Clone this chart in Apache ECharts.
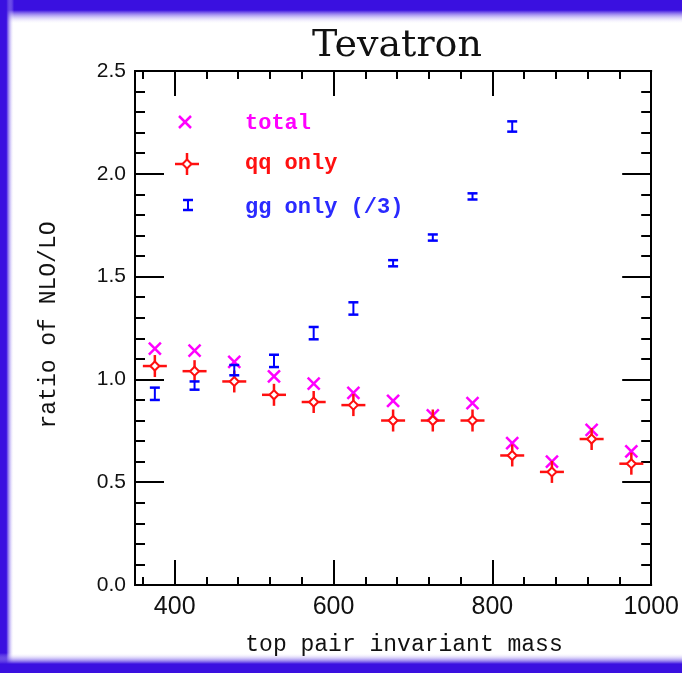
<!DOCTYPE html>
<html>
<head>
<meta charset="utf-8">
<title>Tevatron NLO/LO ratio</title>
<script src="https://cdn.jsdelivr.net/npm/echarts@6/dist/echarts.min.js"></script>
<style>
  html, body { margin: 0; padding: 0; background: #ffffff; }
  #chart { width: 682px; height: 673px; }
</style>
</head>
<body>
<div id="chart"></div>
<script>
// Bin centres of the top-pair invariant mass (GeV)
const massBins = [375, 425, 475, 525, 575, 625, 675, 725, 775, 825, 875, 925, 975];

// NLO/LO ratio, all channels
const totalRatio = [1.15, 1.14, 1.085, 1.015, 0.98, 0.935, 0.895, 0.825, 0.885, 0.69, 0.60, 0.755, 0.65];

// NLO/LO ratio, q-qbar channel only
const qqRatio = [1.065, 1.04, 0.99, 0.925, 0.89, 0.875, 0.80, 0.80, 0.80, 0.63, 0.55, 0.71, 0.59];

// NLO/LO ratio, gg channel only (divided by 3), with lower / upper bounds
const ggMass  = [375, 425, 475, 525, 575, 625, 675, 725, 775, 825];
const ggRatio = [0.93, 0.97, 1.045, 1.09, 1.225, 1.345, 1.565, 1.69, 1.89, 2.23];
const ggLow   = [0.90, 0.95, 1.02, 1.06, 1.195, 1.315, 1.55, 1.675, 1.875, 2.205];
const ggHigh  = [0.96, 0.99, 1.07, 1.12, 1.255, 1.375, 1.58, 1.705, 1.905, 2.255];

// Axis ticks
const xMajorTicks = [400, 600, 800, 1000];
const xMinorTicks = [360, 440, 480, 520, 560, 640, 680, 720, 760, 840, 880, 920, 960];

const legendNames = ['total', 'qq only', 'gg only (/3)'];

const MAGENTA = '#ff00ff';
const RED = '#ff1010';
const BLUE = '#0000ff';
const FRAME = '#3a10e0';

const chart = echarts.init(document.getElementById('chart'), null, { renderer: 'canvas' });

function xAxisCfg(position, ticks, len, labels) {
  return {
    type: 'value', min: 350, max: 1000, position: position,
    axisLine: { show: true, onZero: false, lineStyle: { color: '#000', width: 2 } },
    axisTick: { show: true, inside: true, length: len, customValues: ticks,
                lineStyle: { color: '#000', width: 2 } },
    axisLabel: labels ? { show: true, customValues: xMajorTicks, margin: 10,
                          fontFamily: 'Liberation Sans', fontSize: 25, color: '#111',
                          formatter: v => String(v) }
                      : { show: false },
    splitLine: { show: false }
  };
}

function yAxisCfg(position, labels) {
  return {
    type: 'value', min: 0, max: 2.5, interval: 0.5, position: position,
    axisLine: { show: true, onZero: false, lineStyle: { color: '#000', width: 2 } },
    axisTick: { show: true, inside: true, length: 29, lineStyle: { color: '#000', width: 2 } },
    minorTick: { show: true, splitNumber: 5, length: 10, lineStyle: { color: '#000', width: 2 } },
    axisLabel: labels ? { show: true, margin: 9, fontFamily: 'Liberation Sans', fontSize: 21,
                          color: '#111', formatter: v => v.toFixed(1) }
                      : { show: false },
    splitLine: { show: false }, minorSplitLine: { show: false }
  };
}

// Marker drawers (pixel offsets around the data point)
function crossX(cx, cy, r, color) {
  return {
    type: 'group', children: [
      { type: 'line', shape: { x1: cx - r, y1: cy - r, x2: cx + r, y2: cy + r },
        style: { stroke: color, lineWidth: 2.5 } },
      { type: 'line', shape: { x1: cx - r, y1: cy + r, x2: cx + r, y2: cy - r },
        style: { stroke: color, lineWidth: 2.5 } }
    ]
  };
}

function starDiamond(cx, cy, color) {
  const d = 4.5;
  return {
    type: 'group', children: [
      { type: 'line', shape: { x1: cx - 12, y1: cy, x2: cx + 12, y2: cy },
        style: { stroke: color, lineWidth: 2.5 } },
      { type: 'line', shape: { x1: cx, y1: cy - 11, x2: cx, y2: cy + 11 },
        style: { stroke: color, lineWidth: 2.5 } },
      { type: 'polygon', shape: { points: [[cx, cy - d], [cx + d, cy], [cx, cy + d], [cx - d, cy]] },
        style: { fill: '#fff', stroke: color, lineWidth: 2 } }
    ]
  };
}

function errBar(cx, yTop, yBot, color) {
  const w = 5;
  return {
    type: 'group', children: [
      { type: 'line', shape: { x1: cx, y1: yTop, x2: cx, y2: yBot },
        style: { stroke: color, lineWidth: 2 } },
      { type: 'line', shape: { x1: cx - w, y1: yTop, x2: cx + w, y2: yTop },
        style: { stroke: color, lineWidth: 2.5 } },
      { type: 'line', shape: { x1: cx - w, y1: yBot, x2: cx + w, y2: yBot },
        style: { stroke: color, lineWidth: 2.5 } }
    ]
  };
}

const option = {
  backgroundColor: '#ffffff',
  animation: false,
  grid: { left: 135, right: 30, top: 71, bottom: 88, containLabel: false },
  xAxis: [
    xAxisCfg('bottom', xMajorTicks, 25, true),
    xAxisCfg('bottom', xMinorTicks, 8, false),
    xAxisCfg('top', xMajorTicks, 25, false),
    xAxisCfg('top', xMinorTicks, 8, false)
  ],
  yAxis: [
    yAxisCfg('left', true),
    yAxisCfg('right', false)
  ],
  series: [
    {
      name: legendNames[0], type: 'custom', xAxisIndex: 0, yAxisIndex: 0,
      data: massBins.map((m, i) => [m, totalRatio[i]]),
      renderItem: (params, api) => {
        const p = api.coord([api.value(0), api.value(1)]);
        return crossX(p[0], p[1], 6, MAGENTA);
      }
    },
    {
      name: legendNames[1], type: 'custom', xAxisIndex: 0, yAxisIndex: 0,
      data: massBins.map((m, i) => [m, qqRatio[i]]),
      renderItem: (params, api) => {
        const p = api.coord([api.value(0), api.value(1)]);
        return starDiamond(p[0], p[1], RED);
      }
    },
    {
      name: legendNames[2], type: 'custom', xAxisIndex: 0, yAxisIndex: 0,
      data: ggMass.map((m, i) => [m, ggRatio[i], ggLow[i], ggHigh[i]]),
      renderItem: (params, api) => {
        const top = api.coord([api.value(0), api.value(3)]);
        const bot = api.coord([api.value(0), api.value(2)]);
        return errBar(top[0], top[1], bot[1], BLUE);
      }
    }
  ],
  graphic: [
    // window frame (top, left, bottom edges)
    { type: 'rect', left: 0, top: 0, shape: { width: 682, height: 24 }, silent: true,
      style: { fill: new echarts.graphic.LinearGradient(0, 0, 0, 1, [
        { offset: 0, color: FRAME }, { offset: 0.42, color: FRAME },
        { offset: 1, color: 'rgba(255,255,255,0)' }]) } },
    { type: 'rect', left: 0, top: 0, shape: { width: 14, height: 673 }, silent: true,
      style: { fill: new echarts.graphic.LinearGradient(0, 0, 1, 0, [
        { offset: 0, color: FRAME }, { offset: 0.45, color: FRAME },
        { offset: 1, color: 'rgba(255,255,255,0)' }]) } },
    { type: 'rect', left: 0, top: 653, shape: { width: 682, height: 20 }, silent: true,
      style: { fill: new echarts.graphic.LinearGradient(0, 1, 0, 0, [
        { offset: 0, color: FRAME }, { offset: 0.45, color: FRAME },
        { offset: 1, color: 'rgba(255,255,255,0)' }]) } },
    // title and axis names
    { type: 'text', x: 397, y: 46, silent: true,
      style: { text: 'Tevatron', fontFamily: 'DejaVu Serif', fontSize: 38, fill: '#111',
               align: 'center', verticalAlign: 'middle' } },
    { type: 'text', x: 404, y: 645, silent: true,
      style: { text: 'top pair invariant mass', fontFamily: 'Liberation Mono', fontSize: 23,
               fill: '#111', align: 'center', verticalAlign: 'middle' } },
    { type: 'text', x: 49, y: 325, rotation: Math.PI / 2, silent: true,
      style: { text: 'ratio of NLO/LO', fontFamily: 'Liberation Mono', fontSize: 23,
               fill: '#111', align: 'center', verticalAlign: 'middle' } },
    // legend
    Object.assign(crossX(185, 122, 6, MAGENTA), { silent: true }),
    Object.assign(starDiamond(187, 164, RED), { silent: true }),
    Object.assign(errBar(188, 200, 210, BLUE), { silent: true }),
    { type: 'text', x: 245, y: 123, silent: true,
      style: { text: legendNames[0], fontFamily: 'Liberation Mono', fontWeight: 'bold', fontSize: 22,
               fill: MAGENTA, align: 'left', verticalAlign: 'middle' } },
    { type: 'text', x: 245, y: 163, silent: true,
      style: { text: legendNames[1], fontFamily: 'Liberation Mono', fontWeight: 'bold', fontSize: 22,
               fill: RED, align: 'left', verticalAlign: 'middle' } },
    { type: 'text', x: 245, y: 207, silent: true,
      style: { text: legendNames[2], fontFamily: 'Liberation Mono', fontWeight: 'bold', fontSize: 22,
               fill: '#2a2aff', align: 'left', verticalAlign: 'middle' } }
  ]
};

chart.setOption(option);
</script>
</body>
</html>
